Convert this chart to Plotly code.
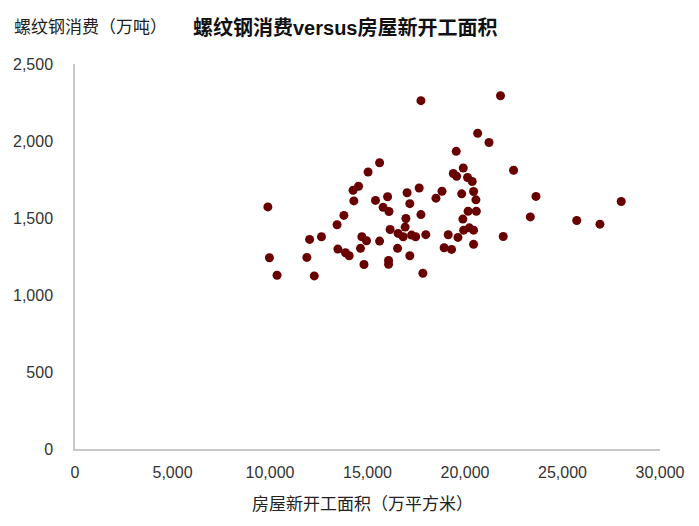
import plotly.graph_objects as go

# 房屋新开工面积（万平方米）
new_starts = [
    9890, 9970, 10360, 12030, 12640, 11890, 12270, 13440, 13790, 14300,
    14260, 14540, 13480, 13870, 14060, 14640, 14710, 14950, 14820, 15030,
    15620, 15410, 16030, 17030, 17650, 17170, 15800, 16100, 16970, 17740,
    16160, 16930, 16570, 16830, 17260, 17470, 17990, 15620, 16540, 17170,
    16080, 16080, 17840, 20650, 21230, 19550, 22490, 19910, 19400, 19570,
    20130, 20370, 18820, 18510, 19830, 20440, 20560, 20160, 20580, 19890,
    19930, 20220, 20440, 19140, 19640, 21960, 20440, 18930, 19310, 17740,
    21820, 23640, 23350, 25730, 26920, 28010,
]
# 螺纹钢消费（万吨）
rebar_consumption = [
    1572, 1242, 1128, 1361, 1378, 1244, 1124, 1456, 1517, 1611,
    1680, 1706, 1298, 1274, 1255, 1303, 1378, 1352, 1198, 1799,
    1859, 1614, 1638, 1664, 1695, 1593, 1569, 1542, 1497, 1522,
    1425, 1441, 1400, 1378, 1389, 1378, 1392, 1350, 1303, 1255,
    1224, 1199, 1141, 2050, 1990, 1933, 1810, 1825, 1789, 1771,
    1763, 1737, 1674, 1629, 1657, 1672, 1618, 1544, 1544, 1493,
    1421, 1436, 1421, 1391, 1374, 1380, 1329, 1307, 1296, 2262,
    2294, 1640, 1507, 1484, 1460, 1607,
]

x_ticks = [0, 5000, 10000, 15000, 20000, 25000, 30000]
y_ticks = [0, 500, 1000, 1500, 2000, 2500]

title_text = "螺纹钢消费versus房屋新开工面积"
y_title = "螺纹钢消费（万吨）"
x_title = "房屋新开工面积（万平方米）"

FONT = "Liberation Sans, Arial, Noto Sans CJK SC, sans-serif"

fig = go.Figure(
    go.Scatter(
        x=new_starts,
        y=rebar_consumption,
        mode="markers",
        marker=dict(size=9, color="#680000", line=dict(width=0)),
        hoverinfo="x+y",
    )
)

fig.update_layout(
    width=691,
    height=518,
    margin=dict(l=67, r=39, t=56, b=77, autoexpand=False),
    paper_bgcolor="white",
    plot_bgcolor="white",
    showlegend=False,
    font=dict(family=FONT, size=16, color="#333333"),
)

fig.update_xaxes(
    range=[0, 30000],
    tickvals=x_ticks,
    ticktext=[f"{v:,}" for v in x_ticks],
    showgrid=False,
    zeroline=False,
    showline=True,
    linecolor="#C8C8C8",
    linewidth=1.5,
    ticks="",
    automargin=False,
    ticklabelstandoff=8,
    tickfont=dict(family=FONT, size=16, color="#333333"),
)
fig.update_yaxes(
    range=[0, 2500],
    tickvals=y_ticks,
    ticktext=[f"{v:,}" for v in y_ticks],
    showgrid=False,
    zeroline=False,
    showline=True,
    linecolor="#C8C8C8",
    linewidth=1.5,
    ticks="",
    automargin=False,
    ticklabelstandoff=17,
    tickfont=dict(family=FONT, size=16, color="#333333"),
)

fig.add_annotation(
    text=f"<b>{title_text}</b>",
    xref="paper", yref="paper",
    x=0.4632, y=1.0946,
    xanchor="center", yanchor="middle",
    showarrow=False,
    font=dict(family=FONT, size=20, color="#111111"),
)
fig.add_annotation(
    text=y_title,
    xref="paper", yref="paper",
    x=-0.1077, y=1.0946,
    xanchor="left", yanchor="middle",
    showarrow=False,
    font=dict(family=FONT, size=17, color="#222222"),
)
fig.add_annotation(
    text=x_title,
    xref="paper", yref="paper",
    x=0.4906, y=-0.1444,
    xanchor="center", yanchor="middle",
    showarrow=False,
    font=dict(family=FONT, size=17, color="#222222"),
)

fig.write_html("out.html")
